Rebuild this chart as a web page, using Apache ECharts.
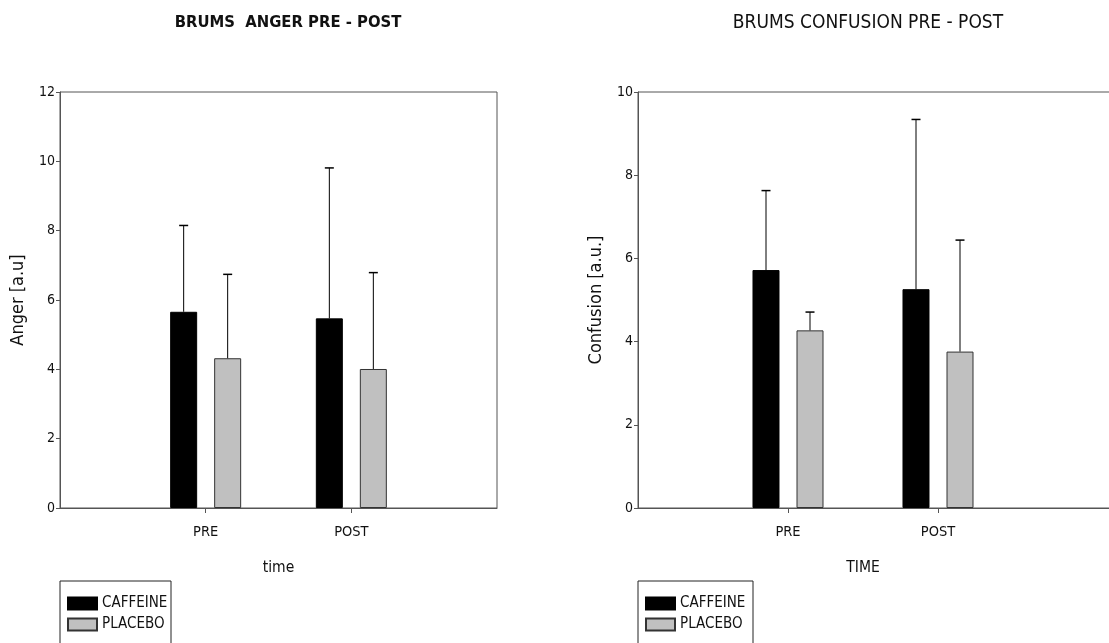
<!DOCTYPE html>
<html>
<head>
<meta charset="utf-8">
<script src="https://cdn.jsdelivr.net/npm/echarts@6/dist/echarts.min.js"></script>
<style>html,body{margin:0;padding:0;background:#fff}#c{width:1109px;height:643px}</style>
</head>
<body>
<div id="c"></div>
<script>
// ---- data ----
var categories = ['PRE', 'POST'];
var seriesNames = ['CAFFEINE', 'PLACEBO'];
// Anger chart
var angerCaffeine = [5.66, 5.47];
var angerCaffeineSD = [2.49, 4.34];
var angerPlacebo = [4.32, 4.01];
var angerPlaceboSD = [2.42, 2.78];
var angerTicks = [0, 2, 4, 6, 8, 10, 12];
// Confusion chart
var confCaffeine = [5.72, 5.26];
var confCaffeineSD = [1.91, 4.08];
var confPlacebo = [4.27, 3.76];
var confPlaceboSD = [0.44, 2.68];
var confTicks = [0, 2, 4, 6, 8, 10];

var FONT = "'Liberation Sans Narrow', 'Arial Narrow', 'DejaVu Sans Condensed', 'Liberation Sans', Arial, sans-serif";
var AXIS = '#555';
var BAR_W = 27, BAR_GAP = 17;
var OFF = (BAR_W + BAR_GAP) / 2;

function axisData(padRight) {
  var d = [''].concat(categories);
  for (var i = 0; i < padRight; i++) d.push(new Array(i + 2).join(' '));
  return d;
}
function barData(vals) {
  return vals.map(function (v, i) { return [i + 1, v]; });
}
function errData(vals, sds) {
  return vals.map(function (v, i) { return [i + 1, v, v + sds[i]]; });
}
function errSeries(name, idx, vals, sds, off) {
  return {
    type: 'custom', name: name, xAxisIndex: idx, yAxisIndex: idx, z: 5,
    data: errData(vals, sds), encode: { x: 0, y: [1, 2] },
    renderItem: function (params, api) {
      var b = api.coord([api.value(0), api.value(1)]);
      var t = api.coord([api.value(0), api.value(2)]);
      var x = b[0] + off;
      return {
        type: 'group', children: [
          { type: 'line', shape: { x1: x, y1: b[1], x2: x, y2: t[1] }, style: { stroke: '#000', lineWidth: 1 } },
          { type: 'line', shape: { x1: x - 4.5, y1: t[1], x2: x + 4.5, y2: t[1] }, style: { stroke: '#000', lineWidth: 1.5 } }
        ]
      };
    }
  };
}
function xAx(idx, name, padRight, nameShift) {
  return {
    type: 'category', gridIndex: idx, data: axisData(padRight), boundaryGap: false,
    name: name, nameLocation: 'middle', nameGap: 52,
    nameTextStyle: { fontFamily: FONT, fontSize: 15.5, color: '#111', padding: [0, nameShift, 0, 0] },
    axisLine: { lineStyle: { color: AXIS, width: 1 } },
    axisTick: { length: 5, lineStyle: { color: AXIS }, interval: function (i, v) { return String(v).trim() !== ''; } },
    axisLabel: { fontFamily: FONT, fontSize: 14.5, color: '#111', margin: 17, interval: function (i, v) { return String(v).trim() !== ''; } },
    splitLine: { show: false }
  };
}
function yAx(idx, name, ticks) {
  return {
    type: 'value', gridIndex: idx, min: ticks[0], max: ticks[ticks.length - 1], interval: ticks[1] - ticks[0],
    name: name, nameLocation: 'middle', nameGap: 33,
    nameTextStyle: { fontFamily: FONT, fontSize: 18, color: '#111' },
    axisLine: { show: true, lineStyle: { color: AXIS, width: 1 } },
    axisTick: { show: true, length: 4, lineStyle: { color: AXIS } },
    axisLabel: { fontFamily: FONT, fontSize: 14, color: '#111', margin: 5 },
    splitLine: { show: false }
  };
}
function bar(name, idx, vals, color, border) {
  return {
    type: 'bar', name: name, xAxisIndex: idx, yAxisIndex: idx,
    data: barData(vals), barWidth: BAR_W, barGap: (BAR_GAP / BAR_W * 100).toFixed(0) + '%',
    itemStyle: { color: color, borderColor: border, borderWidth: 1 }
  };
}
function legend(left) {
  return {
    data: seriesNames, orient: 'vertical', left: left, top: 591,
    icon: 'rect', itemWidth: 29, itemHeight: 12, itemGap: 6,
    textStyle: { fontFamily: FONT, fontSize: 15, color: '#111' },
    selectedMode: false
  };
}

var chart = echarts.init(document.getElementById('c'), null, { renderer: 'canvas' });
chart.setOption({
  animation: false,
  backgroundColor: '#fff',
  title: [
    { text: 'BRUMS  ANGER PRE - POST', left: 283, top: 9, textAlign: 'center',
      textStyle: { fontFamily: FONT, fontSize: 16.5, fontWeight: 'bold', color: '#111' } },
    { text: 'BRUMS CONFUSION PRE - POST', left: 863, top: 9, textAlign: 'center',
      textStyle: { fontFamily: FONT, fontSize: 19, fontWeight: 'normal', color: '#111' } }
  ],
  grid: [
    { left: 60, top: 92, width: 437, height: 416, show: true, borderColor: AXIS, borderWidth: 1, backgroundColor: 'transparent', outerBoundsMode: 'none', containLabel: false },
    { left: 638, top: 92, width: 600, height: 416, show: true, borderColor: AXIS, borderWidth: 1, backgroundColor: 'transparent', outerBoundsMode: 'none', containLabel: false }
  ],
  xAxis: [xAx(0, 'time', 1, 0), xAx(1, 'TIME', 2, 150)],
  yAxis: [yAx(0, 'Anger [a.u]', angerTicks), yAx(1, 'Confusion [a.u.]', confTicks)],
  legend: [legend(62), legend(640)],
  graphic: [
    { type: 'rect', shape: { x: 60, y: 581, width: 111, height: 100 }, style: { fill: 'none', stroke: '#222', lineWidth: 1 } },
    { type: 'rect', shape: { x: 638, y: 581, width: 115, height: 100 }, style: { fill: 'none', stroke: '#222', lineWidth: 1 } }
  ],
  series: [
    bar('CAFFEINE', 0, angerCaffeine, '#000', '#000'),
    bar('PLACEBO', 0, angerPlacebo, '#c0c0c0', '#333'),
    errSeries('CAFFEINE SD', 0, angerCaffeine, angerCaffeineSD, -OFF),
    errSeries('PLACEBO SD', 0, angerPlacebo, angerPlaceboSD, OFF),
    bar('CAFFEINE', 1, confCaffeine, '#000', '#000'),
    bar('PLACEBO', 1, confPlacebo, '#c0c0c0', '#333'),
    errSeries('CAFFEINE SD', 1, confCaffeine, confCaffeineSD, -OFF),
    errSeries('PLACEBO SD', 1, confPlacebo, confPlaceboSD, OFF)
  ]
});
</script>
</body>
</html>
